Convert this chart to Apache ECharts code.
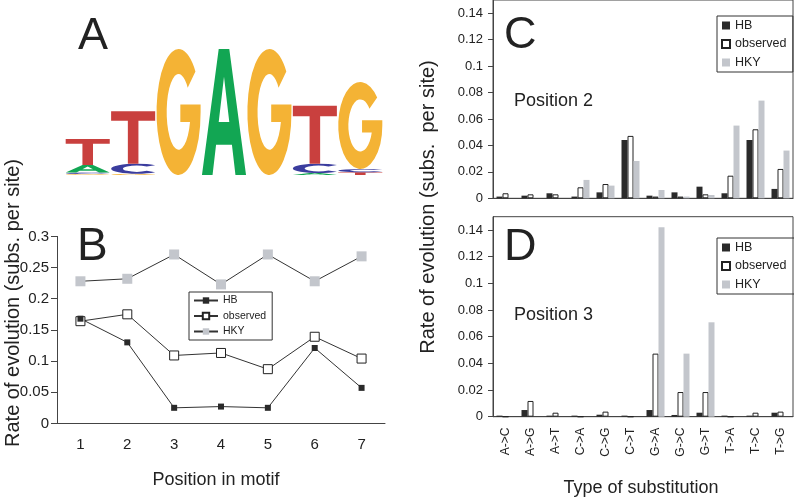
<!DOCTYPE html>
<html><head><meta charset="utf-8">
<script src="https://cdn.jsdelivr.net/npm/echarts@6/dist/echarts.min.js"></script>
<style>html,body{margin:0;padding:0;background:#fff}#c{width:794px;height:499px}</style>
</head><body><div id="c"></div>
<script>
// ---- Panel B data ----
const positions = ['1','2','3','4','5','6','7'];
const hbB  = [0.168,0.130,0.025,0.027,0.025,0.121,0.057];
const obsB = [0.164,0.175,0.109,0.113,0.087,0.139,0.104];
const hkyB = [0.228,0.232,0.271,0.223,0.271,0.228,0.268];

// ---- Panels C/D data ----
const substitutions = ['A->C','A->G','A->T','C->A','C->G','C->T','G->A','G->C','G->T','T->A','T->C','T->G'];
const hbC  = [0.0013,0.002,0.0038,0.0013,0.0045,0.0441,0.002,0.0045,0.0088,0.0038,0.0441,0.0071];
const obsC = [0.0038,0.003,0.003,0.0083,0.0108,0.0472,0.0013,0.0013,0.003,0.0171,0.0522,0.0222];
const hkyC = [0,0,0,0.0139,0.0096,0.0282,0.0063,0.0013,0.0025,0.055,0.0739,0.0361];
const hbD  = [0.0008,0.005,0.0008,0.0008,0.0015,0.0008,0.005,0.0013,0.003,0.0008,0.0008,0.003];
const obsD = [0,0.0118,0.003,0,0.0038,0,0.0473,0.0185,0.0185,0,0.003,0.0038];
const hkyD = [0,0,0,0,0,0,0.142,0.0473,0.0708,0,0,0];

// ---- Panel A (sequence logo) data, heights in bits per motif position ----
const logoLetters = ['A','C','G','T'];
const logoA = [0.12,0,0,2.0,0,0.03,0];
const logoC = [0.025,0.16,0,0,0,0.15,0.05];
const logoG = [0.015,0.02,2.0,0,2.0,0,1.38];
const logoT = [0.41,0.83,0,0,0,0.92,0.045];

const FONT = 'Liberation Sans, Arial, Helvetica, sans-serif';
const TXT = '#222';
const AX = '#444';
const DARK = '#2a2a2a';
const GRAY = '#c3c6cc';

const glyphs = {
  A: 'M0,100 L38,0 L62,0 L100,100 L76,100 L68,76 L32,76 L24,100 Z M50,22 L38,58 L62,58 Z',
  C: 'M85.4,14.6 A50,50 0 1 0 85.4,85.4 L69.1,71.2 A27,30 0 1 1 69.1,28.8 Z',
  G: 'M88.3,17.9 A50,50 0 1 0 100,50 L100,44 L54,44 L54,58 L76,58 A27,30 0 1 1 70.7,30.7 Z',
  T: 'M0,0 L100,0 L100,18 L62,18 L62,100 L38,100 L38,18 L0,18 Z'
};
const letterColors = {A:'#12a653', C:'#3b3d9e', G:'#f4b335', T:'#c9403e'};

// build stacked logo items
const logoHeights = {A: logoA, C: logoC, G: logoG, T: logoT};
const logoData = [];
for (let i = 0; i < positions.length; i++) {
  const items = logoLetters.map((L, k) => ({L, k, h: logoHeights[L][i]})).filter(o => o.h > 0);
  items.sort((a, b) => a.h - b.h);
  let base = 0;
  items.forEach(o => { logoData.push([i + 1, base, base + o.h, o.k]); base += o.h; });
}

const chart = echarts.init(document.getElementById('c'), null, {renderer: 'canvas'});

function barSeries(name, data, xi, yi, style) {
  return {name, type: 'bar', xAxisIndex: xi, yAxisIndex: yi, data, barWidth: 6, barGap: '0%',
    itemStyle: style, emphasis: {disabled: true}, animation: false};
}
const hbStyle = {color: DARK};
const obsStyle = {color: '#fff', borderColor: '#222', borderWidth: 1};
const hkyStyle = {color: GRAY};

const cdY = (gi) => ({
  type: 'value', gridIndex: gi, min: 0, max: 0.15, interval: 0.02,
  axisLine: {show: true, lineStyle: {color: AX}},
  axisTick: {show: true, length: 5, lineStyle: {color: AX}},
  axisLabel: {color: TXT, fontSize: 13, fontFamily: FONT, margin: 10, showMaxLabel: false},
  splitLine: {show: false}
});

const option = {
  animation: false,
  backgroundColor: '#fff',
  grid: [
    {left: 65, top: 49, width: 318, height: 126},
    {left: 57, top: 236.4, width: 328, height: 187},
    {left: 493, top: 0, width: 300, height: 198.3, show: true, borderColor: AX, borderWidth: 1},
    {left: 493, top: 216.7, width: 300, height: 200, show: true, borderColor: AX, borderWidth: 1}
  ],
  xAxis: [
    {type: 'value', gridIndex: 0, min: 0.5, max: 7.5, show: false},
    {type: 'category', gridIndex: 1, data: positions, boundaryGap: true,
      axisLine: {lineStyle: {color: AX}}, axisTick: {length: 5, lineStyle: {color: AX}},
      axisLabel: {color: TXT, fontSize: 15, fontFamily: FONT, margin: 14}},
    {type: 'category', gridIndex: 2, data: substitutions, boundaryGap: true,
      axisLine: {lineStyle: {color: AX}}, axisTick: {length: 4, lineStyle: {color: AX}},
      axisLabel: {show: false}},
    {type: 'category', gridIndex: 3, data: substitutions, boundaryGap: true,
      axisLine: {lineStyle: {color: AX}}, axisTick: {length: 4, lineStyle: {color: AX}},
      axisLabel: {color: TXT, fontSize: 12, fontFamily: FONT, rotate: 90, margin: 11}}
  ],
  yAxis: [
    {type: 'value', gridIndex: 0, min: 0, max: 2, show: false},
    {type: 'value', gridIndex: 1, min: 0, max: 0.3, interval: 0.05,
      axisLine: {show: true, lineStyle: {color: AX}},
      axisTick: {show: true, length: 6, lineStyle: {color: AX}},
      axisLabel: {color: TXT, fontSize: 15, fontFamily: FONT, margin: 8},
      splitLine: {show: false}},
    cdY(2), cdY(3)
  ],
  legend: [
    {orient: 'vertical', left: 189, top: 292, data: ['HB','observed','HKY'],
      borderColor: '#333', borderWidth: 1, padding: [3,6,3,4], itemGap: 4.5,
      itemWidth: 24, itemHeight: 8, textStyle: {fontSize: 10.5, fontFamily: FONT, color: TXT},
      selectedMode: false},
    {orient: 'vertical', left: 717, top: 16, data: ['HB ','observed ','HKY '],
      borderColor: '#333', borderWidth: 1, padding: [3,3,3,4], itemGap: 5.5,
      itemWidth: 8, itemHeight: 8, icon: 'rect', textStyle: {fontSize: 12.5, fontFamily: FONT, color: TXT},
      selectedMode: false},
    {orient: 'vertical', left: 717, top: 238, data: ['HB  ','observed  ','HKY  '],
      borderColor: '#333', borderWidth: 1, padding: [3,3,3,4], itemGap: 5.5,
      itemWidth: 8, itemHeight: 8, icon: 'rect', textStyle: {fontSize: 12.5, fontFamily: FONT, color: TXT},
      selectedMode: false}
  ],
  series: [
    {type: 'custom', xAxisIndex: 0, yAxisIndex: 0, data: logoData, silent: true,
      renderItem: function (params, api) {
        const x = api.value(0), y0 = api.value(1), y1 = api.value(2), k = api.value(3);
        const L = logoLetters[k];
        const pb = api.coord([x, y0]);
        const pt = api.coord([x, y1]);
        const w = api.size([1, 0])[0] * 0.97;
        return {type: 'path',
          shape: {pathData: glyphs[L], x: pb[0] - w / 2, y: pt[1], width: w, height: pb[1] - pt[1], layout: 'cover'},
          style: {fill: letterColors[L]}};
      }},
    {name: 'HKY', type: 'line', xAxisIndex: 1, yAxisIndex: 1, data: hkyB,
      symbol: 'rect', symbolSize: 10, itemStyle: {color: GRAY}, lineStyle: {color: '#333', width: 1}},
    {name: 'observed', type: 'line', xAxisIndex: 1, yAxisIndex: 1, data: obsB,
      symbol: 'rect', symbolSize: 9, itemStyle: {color: '#fff', borderColor: '#222', borderWidth: 1},
      lineStyle: {color: '#333', width: 1}},
    {name: 'HB', type: 'line', xAxisIndex: 1, yAxisIndex: 1, data: hbB,
      symbol: 'rect', symbolSize: 6, itemStyle: {color: DARK}, lineStyle: {color: '#333', width: 1}},
    barSeries('HB ', hbC, 2, 2, hbStyle),
    barSeries('observed ', obsC, 2, 2, obsStyle),
    barSeries('HKY ', hkyC, 2, 2, hkyStyle),
    barSeries('HB  ', hbD, 3, 3, hbStyle),
    barSeries('observed  ', obsD, 3, 3, obsStyle),
    barSeries('HKY  ', hkyD, 3, 3, hkyStyle)
  ],
  graphic: [
    {type: 'text', left: 78, top: 14, style: {text: 'A', font: '45px ' + FONT, fill: TXT}},
    {type: 'text', left: 77, top: 224, style: {text: 'B', font: '46px ' + FONT, fill: TXT}},
    {type: 'text', left: 504, top: 13, style: {text: 'C', font: '45px ' + FONT, fill: TXT}},
    {type: 'text', left: 504, top: 225, style: {text: 'D', font: '45px ' + FONT, fill: TXT}},
    {type: 'text', left: 514, top: 92, style: {text: 'Position 2', font: '18px ' + FONT, fill: TXT}},
    {type: 'text', left: 514, top: 306, style: {text: 'Position 3', font: '18px ' + FONT, fill: TXT}},
    {type: 'text', x: 13, y: 303, rotation: Math.PI / 2,
      style: {text: 'Rate of evolution (subs. per site)', font: '20px ' + FONT, fill: TXT, align: 'center', verticalAlign: 'middle'}},
    {type: 'text', x: 428, y: 207, rotation: Math.PI / 2,
      style: {text: 'Rate of evolution (subs.  per site)', font: '20px ' + FONT, fill: TXT, align: 'center', verticalAlign: 'middle'}},
    {type: 'text', x: 216, y: 480,
      style: {text: 'Position in motif', font: '18px ' + FONT, fill: TXT, align: 'center', verticalAlign: 'middle'}},
    {type: 'text', x: 641, y: 488,
      style: {text: 'Type of substitution', font: '18px ' + FONT, fill: TXT, align: 'center', verticalAlign: 'middle'}}
  ]
};
chart.setOption(option);
</script>
</body></html>
